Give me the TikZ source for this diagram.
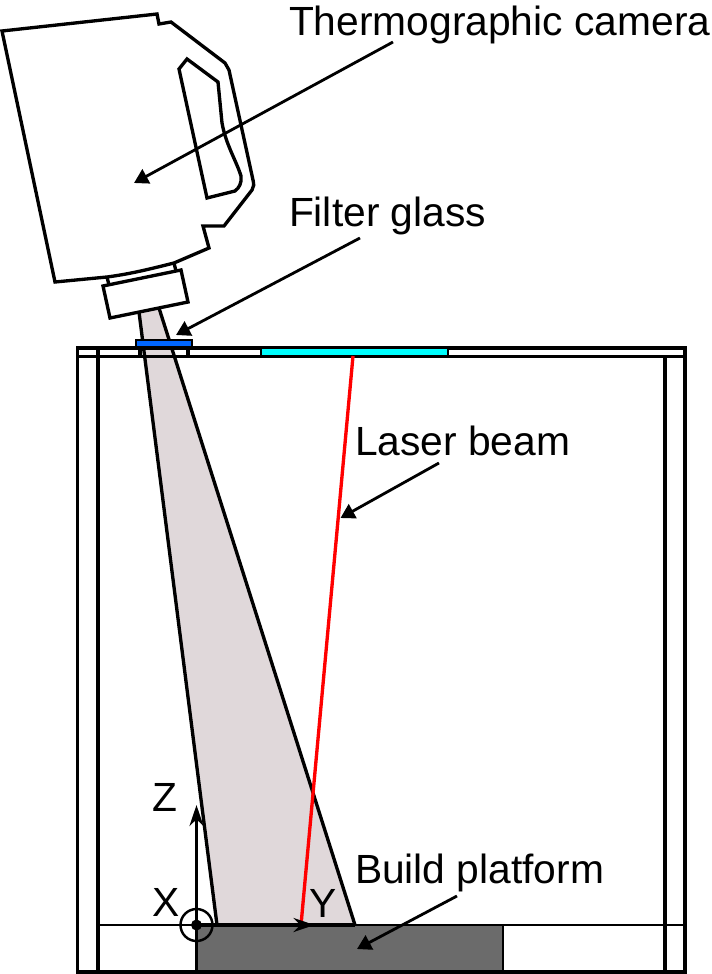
\documentclass[tikz,border=0pt]{standalone}
\usepackage{fontspec}
\setmainfont{Liberation Sans}
\usetikzlibrary{arrows.meta}
\definecolor{conefill}{RGB}{224,216,218}
\definecolor{platformfill}{RGB}{107,107,107}
\definecolor{filterblue}{RGB}{0,102,255}
\definecolor{windowcyan}{RGB}{0,255,255}
\begin{document}
\begin{tikzpicture}[x=.02cm,y=-.02cm,>={Triangle[length=8pt,width=9pt]},line width=1.9pt,inner sep=0pt,outer sep=0pt,
  lbl/.style={font=\fontsize{23.2}{23.2}\selectfont,anchor=base west},
  wall/.style={draw,line width=1.9pt,anchor=north west},
  glass/.style={draw,line width=1.6pt,anchor=north west},
  leader/.style={->,line width=1.6pt},
  axis/.style={-{Stealth[length=12pt,width=8pt]},line width=1.9pt}]
  \useasboundingbox (0,0) rectangle (711,974);
  % beam and chamber
  \coordinate (C1) at (139,312);
  \coordinate (C2) at (159,308);
  \coordinate (C3) at (355,925);
  \coordinate (C4) at (217,925);
  \fill[conefill] (C1) -- (C2) -- (C3) -- (C4) -- cycle;
  \node[wall,fill=platformfill,line width=1.4pt,minimum width=306.5*.02cm,minimum height=46.5*.02cm] (P) at (196.5,925) {};
  \coordinate (O) at (196.5,925);
  \coordinate (R) at (685,925);
  \coordinate (L) at (98,925);
  \draw (C1) -- (C4);
  \draw (C2) -- (C3);
  \draw[line width=1.4pt] (L) -- (R);
  \draw (C4) -- (C3);
  \node[wall,minimum width=607.5*.02cm,minimum height=624*.02cm] (box) at (77.5,348) {};
  \node[wall,minimum width=607.5*.02cm,minimum height=8.5*.02cm] (bar) at (77.5,348) {};
  \coordinate (a1) at (98,348);
  \coordinate (a2) at (98,972);
  \coordinate (b1) at (665,356);
  \coordinate (b2) at (665,972);
  \draw (a1) -- (a2);
  \draw (b1) -- (b2);
  \coordinate (f1) at (140,348);
  \coordinate (f2) at (140,356);
  \coordinate (f3) at (188,348);
  \coordinate (f4) at (188,356);
  \draw (f1) -- (f2);
  \draw (f3) -- (f4);
  \node[glass,fill=windowcyan,minimum width=187*.02cm,minimum height=8.5*.02cm] (W) at (261,348) {};
  \node[glass,fill=filterblue,minimum width=56*.02cm,minimum height=7*.02cm] (F) at (136,340) {};
  \coordinate (B1) at (353,356);
  \coordinate (B2) at (301,925);
  \draw[red] (B1) -- (B2);
  % camera
  \draw[line join=miter] (2,31) -- (157,14) -- (159,24) -- (171,22) -- (225,63) -- (229,70) -- (253,180)
    .. controls (254,184) and (254,187) .. (252,190) -- (224,226) -- (203,226) -- (209,248) -- (174,263)
    .. controls (150,269) and (130,274) .. (107,277) -- (55,282) -- cycle;
  \draw (179,69) -- (187,59) -- (218,82) -- (222,123)
    .. controls (226,145) and (236,160) .. (241,176) .. controls (242,183) and (239,188) .. (235,191) -- (207,198) -- cycle;
  \draw (107,277) -- (109,285);
  \draw (174,263) -- (176,271);
  \draw (103,286) -- (181,270) -- (188,302) -- (110,318) -- cycle;
  % axes
  \node[circle,draw,line width=1.4pt,minimum size=32*.02cm] (ring) at (O) {};
  \node[circle,fill,minimum size=11*.02cm] (dot) at (O) {};
  \coordinate (Zt) at (196.5,805);
  \coordinate (Yt) at (314.5,925);
  \draw[axis] (O) -- (Zt);
  \draw[axis] (O) -- (Yt);
  \node[lbl] (Z) at (152,811) {Z};
  \node[lbl] (X) at (152,916) {X};
  \node[lbl] (Y) at (309,917) {Y};
  % labels
  \node[lbl] (cam) at (289,35) {Thermographic camera};
  \node[lbl] (filter) at (289,226) {Filter glass};
  \node[lbl] (laser) at (355,455) {Laser beam};
  \node[lbl] (build) at (355,883) {Build platform};
  \coordinate (camstart) at (393,42);
  \coordinate (camtip) at (134,183);
  \coordinate (filterstart) at (360,238);
  \coordinate (filtertip) at (176,335);
  \coordinate (laserstart) at (439,463);
  \coordinate (lasertip) at (340.5,518);
  \coordinate (buildstart) at (457,896);
  \coordinate (buildtip) at (357,949);
  \draw[leader] (camstart) -- (camtip);
  \draw[leader] (filterstart) -- (filtertip);
  \draw[leader] (laserstart) -- (lasertip);
  \draw[leader] (buildstart) -- (buildtip);
\end{tikzpicture}
\end{document}
